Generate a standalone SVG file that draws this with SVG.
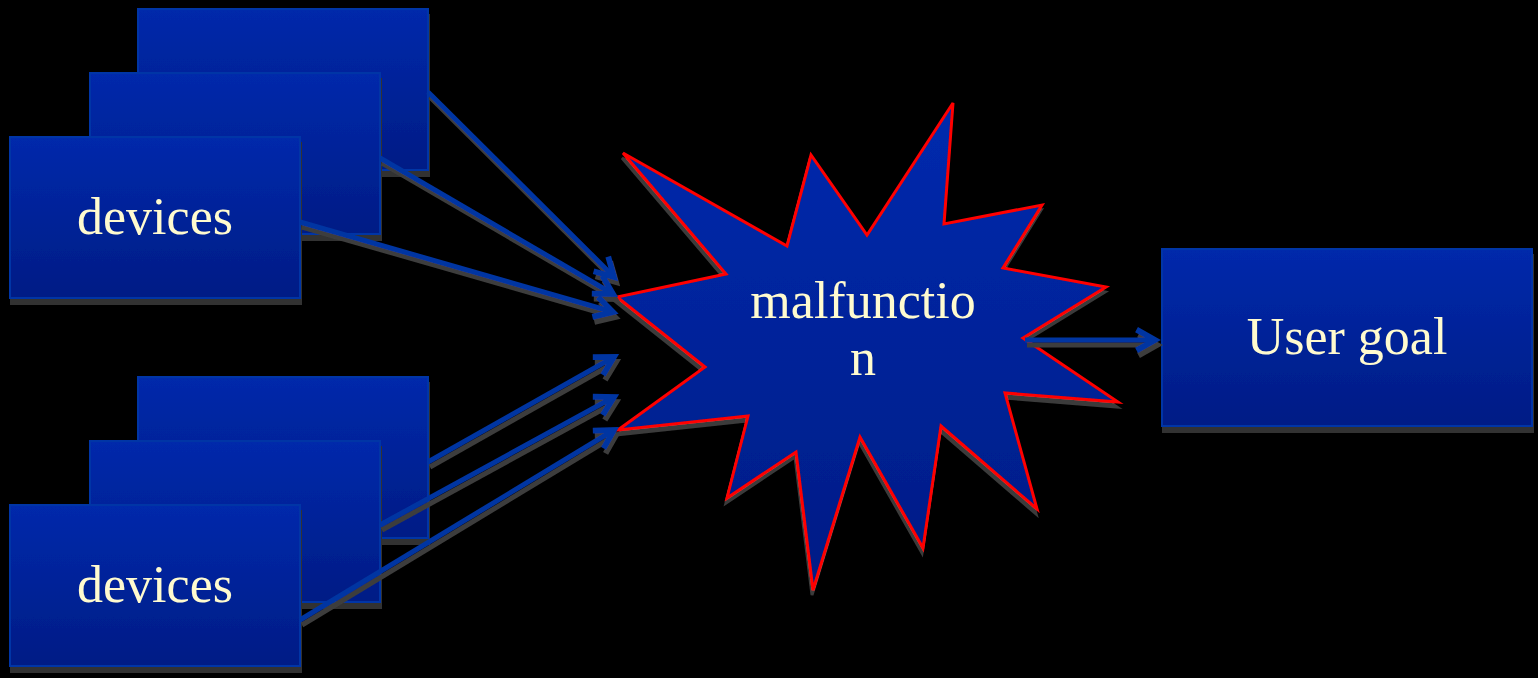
<svg xmlns="http://www.w3.org/2000/svg" width="1538" height="678" viewBox="0 0 1538 678">
  <defs>
    <linearGradient id="boxGrad" x1="0" y1="0" x2="0" y2="1">
      <stop offset="0" stop-color="#0029AB"/>
      <stop offset="1" stop-color="#001C85"/>
    </linearGradient>
    <linearGradient id="starGrad" x1="0" y1="0" x2="0" y2="1">
      <stop offset="0" stop-color="#002AAE"/>
      <stop offset="1" stop-color="#001C85"/>
    </linearGradient>
    <filter id="boxShadow" x="-5%" y="-5%" width="115%" height="120%">
      <feDropShadow dx="1" dy="6" stdDeviation="0.4" flood-color="#333333" flood-opacity="1"/>
    </filter>
    <filter id="lineShadow" x="-5%" y="-5%" width="115%" height="120%">
      <feDropShadow dx="2" dy="5" stdDeviation="0.4" flood-color="#3c3c3c" flood-opacity="1"/>
    </filter>
    <filter id="starShadow" x="-5%" y="-5%" width="115%" height="115%">
      <feDropShadow dx="-1" dy="5" stdDeviation="0.4" flood-color="#3a3a3a" flood-opacity="1"/>
    </filter>
    <marker id="arrow" markerUnits="userSpaceOnUse" markerWidth="30" markerHeight="30" viewBox="-20 -12 26 24" refX="0" refY="0" orient="auto">
      <path d="M-16,-9 L0,0 L-16,9" fill="none" stroke="#0036A2" stroke-width="5"/>
    </marker>
    <style>
      .box { fill: url(#boxGrad); stroke: #0636A6; stroke-width: 2; filter: url(#boxShadow); }
      .label { font-family: "Liberation Serif", "Times New Roman", serif; font-size: 52px; fill: #FFFBCF; text-anchor: middle; }
      .conn { stroke: #0036A2; stroke-width: 5; fill: none; marker-end: url(#arrow); }
    </style>
  </defs>
  <rect x="0" y="0" width="1538" height="678" fill="#000000"/>

  <g id="devices-top-back"><rect class="box" x="138" y="9" width="290" height="161"/></g>
  <g id="devices-top-mid"><rect class="box" x="90" y="73" width="290" height="161"/></g>
  <g id="devices-top">
    <rect class="box" x="10" y="137" width="290" height="161"/>
    <text class="label" x="155" y="234">devices</text>
  </g>

  <g id="devices-bottom-back"><rect class="box" x="138" y="377" width="290" height="161"/></g>
  <g id="devices-bottom-mid"><rect class="box" x="90" y="441" width="290" height="161"/></g>
  <g id="devices-bottom">
    <rect class="box" x="10" y="505" width="290" height="161"/>
    <text class="label" x="155" y="602">devices</text>
  </g>

  <g id="malfunction">
    <polygon filter="url(#starShadow)" fill="url(#starGrad)" stroke="#FF0000" stroke-width="3" stroke-linejoin="miter"
      points="623,153 787,246 811,155 867,235 953,103 944,224 1042,205 1003,268 1106,287 1023,338 1118,402 1005,393 1037,509 941,426 923,548 860,437 813,590 796,452 727,498 748,416 618,430 705,367 617,297 726,274"/>
    <text class="label" x="863" y="318">malfunctio</text>
    <text class="label" x="863" y="375">n</text>
  </g>

  <g id="user-goal">
    <rect class="box" x="1162" y="249" width="370" height="177"/>
    <text class="label" x="1347" y="354">User goal</text>
  </g>

  <g id="connectors" filter="url(#lineShadow)">
    <line class="conn" x1="428" y1="92" x2="614" y2="277"/>
    <line class="conn" x1="380" y1="158" x2="613" y2="294"/>
    <line class="conn" x1="300" y1="222" x2="613" y2="312"/>
    <line class="conn" x1="428" y1="462" x2="614" y2="357"/>
    <line class="conn" x1="380" y1="525" x2="614" y2="397"/>
    <line class="conn" x1="300" y1="620" x2="614" y2="430"/>
    <line class="conn" x1="1025" y1="340" x2="1155" y2="340"/>
  </g>
</svg>
